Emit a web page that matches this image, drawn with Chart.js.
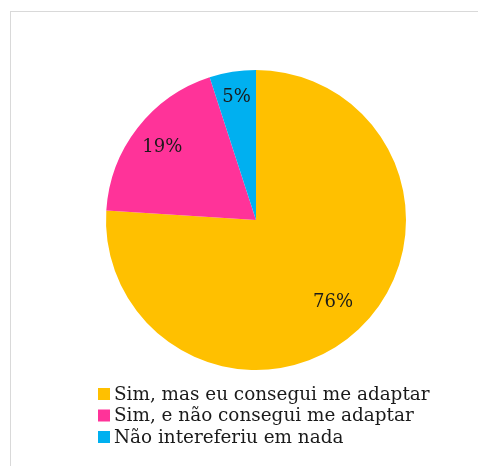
<!DOCTYPE html>
<html>
<head>
<meta charset="utf-8">
<script src="https://cdn.jsdelivr.net/npm/chart.js@4"></script>
<style>
  html, body { margin: 0; padding: 0; background: #fff; }
  #frame {
    position: absolute; left: 10px; top: 11px; width: 480px; height: 470px;
    border-left: 1px solid #d9d9d9; border-top: 1px solid #d9d9d9;
  }
  #wrap { position: absolute; left: 0; top: 0; width: 478px; height: 466px; }
</style>
</head>
<body>
<div id="frame"></div>
<div id="wrap"><canvas id="pieChart"></canvas></div>
<script>
// data
const categories = ['Sim, mas eu consegui me adaptar', 'Sim, e não consegui me adaptar', 'Não intereferiu em nada'];
const shares = [76, 19, 5];
const sliceColors = ['#FFC000', '#FF3399', '#00B0F0'];
const labelRadius = [0.75, 0.79, 0.83];  // how far out each % label sits

const serif = '"DejaVu Serif", "Liberation Serif", serif';

// percentage labels inside the slices
const pctLabels = {
    id: 'pctLabels',
    afterDatasetsDraw(chart) {
        const ctx = chart.ctx;
        const meta = chart.getDatasetMeta(0);
        ctx.save();
        ctx.font = '18px ' + serif;
        ctx.fillStyle = '#1a1a1a';
        ctx.textAlign = 'center';
        ctx.textBaseline = 'middle';
        meta.data.forEach((arc, i) => {
            const p = arc.getProps(['x', 'y', 'startAngle', 'endAngle', 'outerRadius']);
            const mid = (p.startAngle + p.endAngle) / 2;
            const r = p.outerRadius * labelRadius[i];
            ctx.fillText(shares[i] + '%', p.x + Math.cos(mid) * r, p.y + Math.sin(mid) * r);
        });
        ctx.restore();
    }
};

// left-aligned legend under the pie
const sideLegend = {
    id: 'sideLegend',
    afterDraw(chart) {
        const ctx = chart.ctx;
        const arc = chart.getDatasetMeta(0).data[0];
        const left = arc.x - 158;
        let y = arc.y + arc.outerRadius + 24;
        ctx.save();
        ctx.font = '18.4px ' + serif;
        ctx.textBaseline = 'middle';
        categories.forEach((name, i) => {
            ctx.fillStyle = sliceColors[i];
            ctx.fillRect(left, y - 6, 12, 12);
            ctx.fillStyle = '#1a1a1a';
            ctx.fillText(name, left + 16, y + 1);
            y += 21.5;
        });
        ctx.restore();
    }
};

new Chart(document.getElementById('pieChart'), {
    type: 'pie',
    data: {
        labels: categories,
        datasets: [{
            data: shares,
            backgroundColor: sliceColors,
            borderWidth: 0
        }]
    },
    options: {
        responsive: true,
        maintainAspectRatio: false,
        animation: false,
        // left padding pushes the pie centre to x = 256
        layout: { padding: { top: 70, bottom: 96, left: 34, right: 0 } },
        plugins: {
            legend: { display: false },
            tooltip: { enabled: false }
        }
    },
    plugins: [pctLabels, sideLegend]
});
</script>
</body>
</html>
